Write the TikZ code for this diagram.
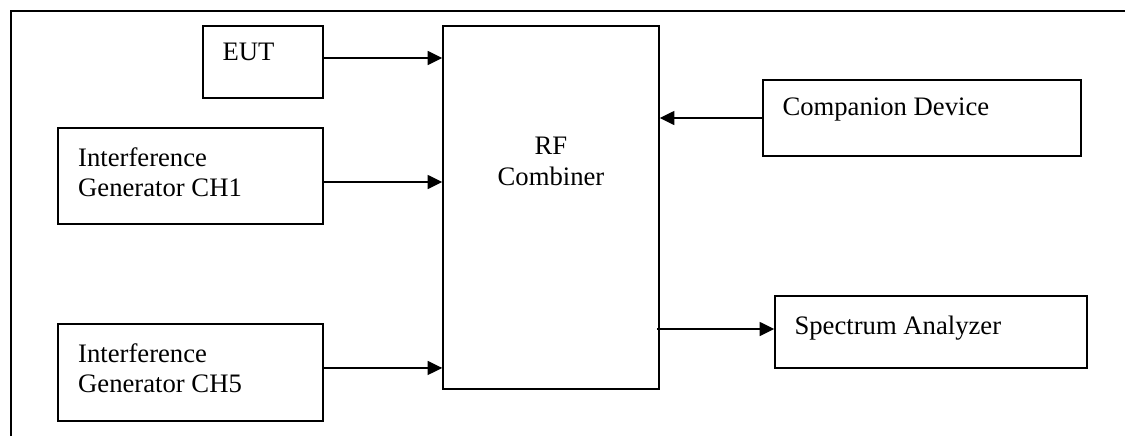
\documentclass[tikz,border=0pt]{standalone}
\usepackage{fontspec}
\setmainfont{Liberation Serif}
\usetikzlibrary{arrows,arrows.meta}

\begin{document}
\begin{tikzpicture}[x=0.75pt,y=-0.75pt,
box/.style={draw,line width=1.1pt,inner sep=0pt},
lbl/.style={font=\fontsize{20}{23}\selectfont,inner sep=0pt,align=left},
arrow/.style={-{Triangle[length=11pt,width=10.5pt]},line width=1.1pt} ]

\useasboundingbox (0,0) rectangle (1125,436);

% open frame
\draw[line width=1.3pt] (11,436) -- (11,11) -- (1125,11);

\node[box,minimum width=90pt,minimum height=54pt,
 label={[lbl,anchor=north west,xshift=15pt,yshift=-13pt]north west:EUT}](EUT) at (263,62) {};

\node[box,minimum width=198.75pt,minimum height=72pt,
 label={[lbl,anchor=north west,xshift=15.5pt,yshift=-15pt]north west:Interference\\Generator CH1}](G1) at (190.5,176) {};

\node[box,minimum width=198.75pt,minimum height=72.75pt,
 label={[lbl,anchor=north west,xshift=15.5pt,yshift=-15pt]north west:Interference\\Generator CH5}](G5) at (190.5,372.5) {};

\node[box,minimum width=162pt,minimum height=272.25pt,
 label={[lbl,align=center,anchor=north,yshift=-84pt]north:RF\\Combiner}](RF) at (551,207.5) {};

\node[box,minimum width=238.5pt,minimum height=57pt,
 label={[lbl,anchor=north west,xshift=15pt,yshift=-13.5pt]north west:Companion Device}](CD) at (922,118) {};

\node[box,minimum width=234pt,minimum height=54pt,
 label={[lbl,anchor=north west,xshift=15pt,yshift=-15pt]north west:Spectrum Analyzer}](SA) at (931,332) {};

\draw[arrow] ([yshift=3pt]EUT.east) -- ([yshift=3pt]EUT.east -| RF.west);

\draw[arrow] ([yshift=-4.5pt]G1.east) -- ([yshift=-4.5pt]G1.east -| RF.west);

\draw[arrow] ([yshift=3.4pt]G5.east) -- ([yshift=3.4pt]G5.east -| RF.west);

\draw[arrow] (CD.west) -- (CD.west -| RF.east);

\draw[arrow] ([xshift=-2pt,yshift=2.25pt]SA.west -| RF.east) -- ([yshift=2.25pt]SA.west);
\end{tikzpicture}
\end{document}
